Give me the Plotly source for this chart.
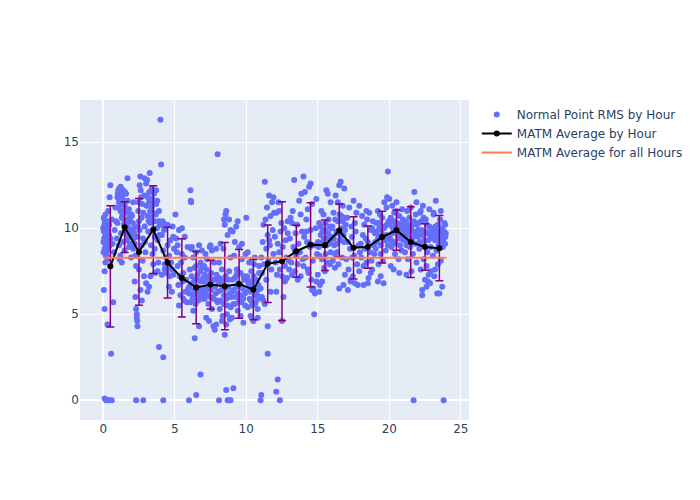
import plotly.graph_objects as go

# Normal point RMS samples (hour, rms), grouped by 4-hour block
rms_pts_00_04 = [
    (0.02,9.2),(0.05,9.8),(0.08,10.2),(0.1,8.8),(0.12,9.5),(0.15,10.0),(0.18,9.0),(0.2,8.5),(0.22,9.7),(0.25,10.3),
    (0.28,9.3),(0.3,8.2),(0.32,9.9),(0.35,10.1),(0.38,8.9),(0.4,9.6),(0.1,7.5),(0.15,8.0),(0.05,6.4),(0.1,5.3),
    (0.3,4.4),(0.55,2.7),(0.7,5.7),(0.5,12.5),(0.45,11.8),(0.6,10.5),(0.65,9.1),(0.75,8.6),(0.8,9.9),(0.9,10.4),
    (0.85,11.2),(0.95,9.4),(0.1,0.1),(0.2,0.0),(0.3,0.0),(0.45,0.0),(0.6,0.0),(0.35,11.0),(0.5,9.4),(0.0,10.0),
    (1.0,11.8),(1.05,12.2),(1.1,11.5),(1.15,12.1),(1.2,11.0),(1.25,12.3),(1.3,10.6),(1.35,11.9),(1.4,12.2),(1.45,10.2),
    (1.5,11.3),(1.55,9.8),(1.6,10.9),(1.65,9.3),(1.7,11.6),(1.75,10.0),(1.8,8.9),(1.85,9.5),(1.9,10.4),(1.95,8.3),
    (1.1,9.0),(1.2,8.4),(1.3,8.0),(1.4,9.2),(1.5,8.7),(1.6,12.0),(1.7,12.9),(1.0,10.3),(1.25,9.7),(1.8,11.1),
    (1.15,8.2),(1.35,10.8),
    (2.0,10.7),(2.05,9.6),(2.1,8.8),(2.15,10.0),(2.2,9.1),(2.25,8.4),(2.3,7.8),(2.2,6.9),(2.25,6.0),(2.3,5.3),
    (2.35,5.0),(2.38,4.6),(2.4,4.3),(2.35,4.8),(2.4,9.5),(2.45,11.0),(2.5,10.4),(2.55,12.5),(2.6,13.0),(2.65,11.8),
    (2.7,9.0),(2.75,8.1),(2.8,10.9),(2.85,7.2),(2.9,12.9),(2.95,8.6),(2.5,7.6),(2.6,6.4),(2.7,5.8),(2.3,0.0),
    (2.8,0.0),(2.1,11.5),(2.55,9.9),(2.9,10.1),
    (3.0,12.6),(3.05,11.9),(3.1,10.7),(3.15,9.8),(3.2,11.5),(3.25,13.2),(3.3,10.3),(3.35,9.0),(3.4,11.2),(3.45,8.5),
    (3.5,10.9),(3.55,12.0),(3.6,9.5),(3.65,7.4),(3.7,11.4),(3.75,10.0),(3.8,9.3),(3.85,8.0),(3.9,11.0),(3.95,10.2),
    (3.1,6.3),(3.2,6.6),(3.3,7.2),(3.0,6.8),(3.4,12.3),(3.6,8.8),(3.8,7.5),(4.0,16.3),(4.05,13.7),(3.9,3.1),
    (4.2,2.5),(4.2,0.0),(3.5,7.9),(3.7,12.2),
]
rms_pts_04_08 = [
    (4.05,10.2),(4.1,9.6),(4.15,10.4),(4.2,8.7),(4.25,9.9),(4.3,7.9),(4.35,10.0),(4.4,8.3),(4.45,7.4),(4.5,9.0),
    (4.55,7.7),(4.6,8.4),(4.65,7.2),(4.7,9.3),(4.75,8.0),(4.8,7.6),(4.85,10.1),(4.9,7.3),(4.95,8.8),(4.1,7.3),
    (4.3,7.6),(4.6,6.6),(4.8,6.3),(4.2,10.3),(4.5,10.2),(4.9,9.5),
    (5.05,10.8),(5.1,9.4),(5.15,8.6),(5.2,7.8),(5.25,6.7),(5.3,9.9),(5.35,7.2),(5.4,6.1),(5.45,8.0),(5.5,10.0),
    (5.55,6.9),(5.6,7.4),(5.65,5.8),(5.7,8.3),(5.75,6.3),(5.8,7.0),(5.85,5.7),(5.9,8.9),(5.95,6.5),(5.2,9.0),
    (5.5,8.5),(5.7,9.5),(6.1,12.2),(6.15,11.5),(6.12,11.6),(5.3,5.5),(5.6,5.9),
    (6.0,6.2),(6.05,7.6),(6.1,5.7),(6.15,8.8),(6.2,6.8),(6.25,5.9),(6.3,8.3),(6.35,6.4),(6.4,7.0),(6.45,5.6),
    (6.5,8.6),(6.55,6.6),(6.6,7.3),(6.65,5.8),(6.7,9.0),(6.75,6.0),(6.8,8.0),(6.85,6.2),(6.9,7.7),(6.95,5.9),
    (6.2,8.9),(6.5,7.8),(6.8,6.9),(6.4,3.6),(6.8,1.5),(6.5,0.3),(6.0,0.0),(6.3,5.2),(6.7,4.3),(6.9,8.7),
    (7.0,6.3),(7.05,7.8),(7.1,5.9),(7.15,8.5),(7.2,6.5),(7.25,8.2),(7.3,7.1),(7.35,5.6),(7.4,6.8),(7.45,8.9),
    (7.5,6.0),(7.55,7.4),(7.6,5.3),(7.65,6.6),(7.7,4.3),(7.75,8.0),(7.8,4.1),(7.85,6.2),(7.9,8.8),(7.95,5.8),
    (7.2,4.8),(7.4,4.6),(7.6,8.7),(7.8,7.0),(8.0,14.3),(7.1,7.3),(7.5,9.0),(7.3,6.1),(7.9,4.4),
]
rms_pts_08_12 = [
    (8.0,5.7),(8.05,6.9),(8.1,8.0),(8.15,5.3),(8.2,9.1),(8.25,6.4),(8.3,7.6),(8.35,4.9),(8.4,8.8),(8.45,6.1),
    (8.5,10.2),(8.55,7.2),(8.6,11.0),(8.65,5.0),(8.7,9.6),(8.75,6.6),(8.8,10.5),(8.85,4.7),(8.9,8.3),(8.95,6.0),
    (8.5,3.8),(8.6,4.4),(8.3,4.6),(8.7,5.5),(8.4,7.0),(8.8,7.5),(8.6,0.6),(8.1,0.0),(8.7,0.0),(8.8,0.0),
    (8.9,0.0),(8.55,10.8),(8.45,10.5),(8.9,9.9),
    (9.0,6.3),(9.05,9.8),(9.1,5.6),(9.15,8.4),(9.2,7.1),(9.25,6.0),(9.3,10.1),(9.35,7.6),(9.4,5.2),(9.45,6.8),
    (9.5,8.9),(9.55,6.1),(9.6,7.4),(9.65,5.7),(9.7,8.2),(9.75,6.5),(9.8,4.5),(9.85,7.0),(9.9,6.2),(9.95,8.5),
    (9.2,9.2),(9.4,10.4),(9.6,4.9),(9.8,5.9),(9.1,0.7),(9.0,4.8),(9.3,6.6),(9.7,9.1),
    (10.0,10.6),(10.05,7.2),(10.1,5.4),(10.15,6.8),(10.2,8.0),(10.25,5.9),(10.3,6.3),(10.35,7.5),(10.4,5.5),(10.45,6.9),
    (10.5,4.6),(10.55,7.9),(10.6,6.1),(10.65,5.7),(10.7,7.0),(10.75,6.4),(10.8,5.3),(10.85,6.7),(10.9,7.4),(10.95,6.0),
    (10.3,4.9),(10.6,8.3),(10.8,4.8),(10.9,7.8),(11.0,0.0),(11.05,0.3),(10.1,8.6),(10.5,6.5),
    (11.0,6.5),(11.05,8.3),(11.1,7.4),(11.15,9.2),(11.2,10.2),(11.25,7.9),(11.3,12.7),(11.35,10.5),(11.4,8.8),(11.45,11.2),
    (11.5,9.6),(11.55,8.1),(11.6,11.9),(11.65,9.0),(11.7,10.7),(11.75,7.6),(11.8,11.5),(11.85,9.9),(11.9,8.5),(11.95,10.9),
    (11.1,6.0),(11.2,5.8),(11.3,5.6),(11.5,2.7),(11.5,4.3),(12.2,1.2),(12.1,0.5),(12.35,0.0),(11.4,7.0),(11.7,6.3),
    (11.9,11.8),(11.6,9.3),
]
rms_pts_12_16 = [
    (12.0,9.5),(12.05,8.0),(12.1,10.9),(12.15,7.3),(12.2,9.1),(12.25,11.5),(12.3,8.6),(12.35,7.6),(12.4,9.8),(12.45,10.3),
    (12.5,4.6),(12.55,8.9),(12.6,6.0),(12.65,10.0),(12.7,7.8),(12.75,9.3),(12.8,8.3),(12.85,7.1),(12.9,9.7),(12.95,8.1),
    (12.1,6.3),(12.3,11.0),(12.5,7.2),(12.7,6.9),(12.9,10.4),
    (13.0,7.6),(13.05,9.4),(13.1,10.6),(13.15,8.0),(13.2,7.3),(13.25,11.0),(13.3,8.9),(13.35,12.8),(13.4,7.5),(13.45,9.7),
    (13.5,8.4),(13.55,10.2),(13.6,7.9),(13.65,9.1),(13.7,11.6),(13.75,8.6),(13.8,7.2),(13.85,12.0),(13.9,9.8),(13.95,8.2),
    (13.2,10.3),(13.4,8.7),(13.6,7.0),(13.8,10.8),(14.0,13.0),
    (14.0,7.8),(14.05,9.5),(14.1,12.1),(14.15,8.3),(14.2,10.5),(14.25,9.2),(14.3,11.1),(14.35,7.4),(14.4,12.4),(14.45,8.9),
    (14.5,9.9),(14.55,7.0),(14.6,11.4),(14.65,8.1),(14.7,6.5),(14.75,9.0),(14.8,6.2),(14.85,10.0),(14.9,6.9),(14.95,8.5),
    (14.75,5.0),(14.3,7.6),(14.5,12.6),(14.9,11.7),(14.6,6.4),(14.2,9.8),
    (15.0,7.3),(15.05,8.9),(15.1,10.3),(15.15,6.7),(15.2,9.6),(15.25,11.0),(15.3,8.2),(15.35,9.2),(15.4,10.8),(15.45,7.7),
    (15.5,9.9),(15.55,8.5),(15.6,12.2),(15.65,9.4),(15.7,8.0),(15.75,10.5),(15.8,9.1),(15.85,7.9),(15.9,11.5),(15.95,10.0),
    (15.1,6.3),(15.3,6.9),(15.5,7.5),(15.7,12.0),(15.9,8.6),(15.2,10.1),
]
rms_pts_16_20 = [
    (16.0,9.5),(16.05,8.1),(16.1,10.9),(16.15,9.0),(16.2,7.7),(16.25,11.9),(16.3,9.8),(16.35,8.6),(16.4,10.4),(16.45,7.9),
    (16.5,12.5),(16.55,9.3),(16.6,12.7),(16.65,10.7),(16.7,8.3),(16.75,11.3),(16.8,9.6),(16.85,12.3),(16.9,7.3),(16.95,10.2),
    (16.5,6.5),(16.2,8.5),(16.8,6.7),(16.4,11.5),(16.9,9.9),(16.7,10.0),
    (17.0,8.2),(17.05,10.6),(17.1,9.2),(17.15,7.6),(17.2,11.2),(17.25,8.8),(17.3,6.9),(17.35,10.1),(17.4,9.5),(17.45,7.2),
    (17.5,11.6),(17.55,8.4),(17.6,6.8),(17.65,9.8),(17.7,10.9),(17.75,7.9),(17.8,6.7),(17.85,9.0),(17.9,11.3),(17.95,8.6),
    (17.1,6.4),(17.3,7.0),(17.6,10.3),(17.9,7.5),(17.4,8.3),
    (18.0,9.1),(18.05,8.3),(18.1,10.7),(18.15,9.6),(18.2,7.8),(18.25,10.2),(18.3,8.8),(18.35,9.4),(18.4,8.0),(18.45,10.5),
    (18.5,9.2),(18.55,7.1),(18.6,10.9),(18.65,8.6),(18.7,9.9),(18.75,8.1),(18.8,7.6),(18.85,10.4),(18.9,9.0),(18.95,8.5),
    (18.2,6.7),(18.5,6.8),(18.8,10.0),(18.4,11.0),(18.7,7.4),
    (19.0,9.7),(19.05,8.8),(19.1,10.3),(19.15,9.2),(19.2,11.0),(19.25,7.9),(19.3,9.5),(19.35,10.8),(19.4,8.5),(19.45,9.9),
    (19.5,10.6),(19.55,8.1),(19.6,9.3),(19.65,11.5),(19.7,10.1),(19.75,8.7),(19.8,9.6),(19.85,11.8),(19.9,13.3),(19.95,10.4),
    (19.2,6.9),(19.4,7.2),(19.6,6.8),(19.8,11.2),(19.3,10.0),(19.9,9.0),
]
rms_pts_20_24 = [
    (20.0,11.7),(20.05,9.4),(20.1,10.6),(20.15,8.9),(20.2,11.3),(20.25,10.0),(20.3,9.1),(20.35,10.9),(20.4,8.5),(20.45,9.8),
    (20.5,11.0),(20.55,10.3),(20.6,9.5),(20.65,8.2),(20.7,10.7),(20.75,9.0),(20.8,10.2),(20.85,8.7),(20.9,9.6),(20.95,10.5),
    (20.1,7.8),(20.3,7.6),(20.5,11.5),(20.7,7.4),(20.9,11.1),(20.4,10.1),
    (21.0,9.3),(21.05,10.4),(21.1,8.6),(21.15,10.0),(21.2,9.0),(21.25,11.0),(21.3,8.2),(21.35,9.7),(21.4,10.6),(21.45,8.9),
    (21.5,9.4),(21.55,7.5),(21.6,10.2),(21.65,8.5),(21.7,9.8),(21.75,12.1),(21.8,9.1),(21.85,10.8),(21.9,8.0),(21.95,9.6),
    (21.2,7.3),(21.5,11.2),(21.7,0.0),(21.9,11.5),(21.3,10.1),
    (22.0,9.5),(22.05,10.3),(22.1,8.8),(22.15,10.9),(22.2,7.6),(22.25,9.9),(22.3,6.1),(22.35,11.3),(22.4,8.2),(22.45,9.3),
    (22.5,7.0),(22.55,10.5),(22.6,6.6),(22.65,8.6),(22.7,9.7),(22.75,7.3),(22.8,10.1),(22.85,6.8),(22.9,8.9),(22.95,9.6),
    (22.3,6.4),(22.6,7.8),(22.8,11.1),(22.4,10.6),(22.7,6.9),(22.2,11.0),(22.9,7.5),
    (23.0,9.9),(23.05,8.4),(23.1,10.8),(23.15,7.2),(23.2,9.3),(23.25,11.6),(23.3,8.7),(23.35,6.2),(23.4,10.2),(23.45,9.0),
    (23.5,6.2),(23.55,10.5),(23.6,8.1),(23.65,9.6),(23.7,10.0),(23.75,8.9),(23.8,9.4),(23.85,10.3),(23.9,9.1),(23.95,9.7),
    (23.2,7.6),(23.4,7.9),(23.7,6.6),(23.8,0.0),(23.1,10.9),(23.6,11.0),(23.9,10.2),
]
# extra samples in the densest cores of the cloud
rms_pts_dense = [
    (0.03,8.6),(0.07,9.4),(0.11,10.4),(0.14,9.1),(0.17,8.4),(0.21,10.0),(0.24,9.5),(0.27,8.7),(0.31,10.4),(0.34,9.2),
    (0.37,8.3),(0.41,10.2),(0.44,9.0),(0.04,10.6),(0.16,10.8),
    (1.02,12.0),(1.08,11.2),(1.12,12.3),(1.18,11.7),(1.22,12.4),(1.28,11.4),(1.32,12.0),(1.38,11.0),(1.42,11.6),(1.48,10.5),
    (1.52,12.1),(1.58,10.3),(1.62,11.1),(1.68,10.1),(1.72,9.6),(1.78,9.9),(1.82,10.6),(1.88,9.1),(1.92,9.8),(1.98,10.8),
    (2.02,9.9),(2.08,10.3),(2.12,9.4),(2.18,9.7),(2.42,10.1),(2.48,11.5),(2.62,12.2),(2.68,10.6),(2.72,11.4),(2.78,9.4),
    (2.88,11.9),(2.92,9.2),
    (3.02,11.3),(3.08,12.8),(3.12,11.8),(3.18,10.4),(3.22,12.1),(3.28,11.0),(3.38,10.6),(3.42,11.7),(3.52,11.5),(3.58,10.4),
    (3.68,10.8),(3.78,11.6),(3.88,10.4),(3.92,9.6),
    (6.02,6.6),(6.18,7.2),(6.28,6.1),(6.38,7.7),(6.48,6.2),(6.58,7.0),(6.68,6.4),(6.78,7.5),(6.88,6.5),(6.98,7.1),
    (7.02,6.9),(7.12,6.2),(7.22,7.6),(7.32,6.5),(7.42,7.2),(7.52,6.4),(7.62,7.0),(7.72,5.9),(7.82,6.6),(7.92,7.3),
    (8.02,6.3),(8.12,7.1),(8.22,5.8),(8.32,6.8),(8.42,5.6),(8.52,6.5),(8.62,5.9),(8.72,7.0),(8.82,6.2),(8.92,5.4),
    (9.02,7.0),(9.12,6.4),(9.22,5.6),(9.32,7.3),(9.42,6.2),(9.52,5.8),(9.62,6.7),(9.72,6.0),(9.82,7.2),(9.92,5.5),
    (10.02,6.3),(10.12,7.0),(10.22,6.5),(10.32,5.8),(10.42,6.6),(10.52,7.2),(10.62,5.6),(10.72,6.2),(10.82,5.9),(10.92,6.5),
    (15.02,9.2),(15.12,8.4),(15.22,9.0),(15.32,9.8),(15.42,9.4),(15.52,10.3),(15.62,9.0),(15.72,9.7),(15.82,10.1),(15.92,9.3),
    (16.02,10.1),(16.12,9.4),(16.22,10.5),(16.32,9.1),(16.42,9.7),(16.52,10.8),(16.62,9.5),(16.72,10.4),(16.82,9.2),(16.92,10.6),
    (19.02,9.2),(19.12,9.8),(19.22,9.4),(19.32,10.3),(19.42,9.0),(19.52,9.6),(19.62,10.0),(19.72,9.3),(19.82,10.2),(19.92,9.5),
    (20.02,10.2),(20.12,9.3),(20.22,9.7),(20.32,10.4),(20.42,9.2),(20.52,10.0),(20.62,9.8),(20.72,9.4),(20.82,9.9),(20.92,10.1),
    (21.02,9.8),(21.12,9.5),(21.22,10.3),(21.32,9.2),(21.42,9.9),(21.52,10.0),(21.62,9.4),(21.72,10.4),(21.82,9.6),(21.92,10.2),
    (22.02,9.9),(22.12,9.2),(22.22,10.4),(22.32,9.6),(22.42,9.0),(22.52,9.8),(22.62,10.2),(22.72,9.3),(22.82,9.6),(22.92,10.0),
    (23.02,9.4),(23.12,9.8),(23.22,10.1),(23.32,9.5),(23.42,9.8),(23.52,9.3),(23.62,9.9),(23.72,9.2),(23.82,9.8),(23.92,9.5),
]

# Hourly MATM averages and standard deviations
avg_hours = [0.5, 1.5, 2.5, 3.5, 4.5, 5.5, 6.5, 7.5, 8.5, 9.5, 10.5, 11.5,
             12.5, 13.5, 14.5, 15.5, 16.5, 17.5, 18.5, 19.5, 20.5, 21.5, 22.5, 23.5]
avg_values = [7.78, 10.06, 8.62, 9.92, 8.0, 7.11, 6.55, 6.72, 6.63, 6.76, 6.43, 7.93,
              8.08, 8.66, 9.03, 9.01, 9.86, 8.86, 8.9, 9.48, 9.88, 9.19, 8.91, 8.84]
avg_std = [3.52, 1.47, 3.1, 2.55, 2.06, 2.27, 2.1, 1.42, 2.54, 2.0, 1.75, 2.25,
           3.45, 1.51, 2.45, 1.47, 1.54, 1.81, 1.23, 1.51, 1.17, 2.05, 1.35, 1.89]

overall_hours = [0, 24]
overall_avg = 8.28

all_pts = (rms_pts_00_04 + rms_pts_04_08 + rms_pts_08_12 + rms_pts_12_16
           + rms_pts_16_20 + rms_pts_20_24 + rms_pts_dense)
rms_x = [p[0] for p in all_pts]
rms_y = [p[1] for p in all_pts]

fig = go.Figure()
fig.add_trace(go.Scatter(
    x=rms_x, y=rms_y, mode="markers", name="Normal Point RMS by Hour",
    marker=dict(color="#636efa", size=6),
))
fig.add_trace(go.Scatter(
    x=avg_hours, y=avg_values, mode="lines+markers", name="MATM Average by Hour",
    line=dict(color="black", width=2), marker=dict(color="black", size=6),
    error_y=dict(type="data", array=avg_std, visible=True, color="purple", thickness=1.5, width=4),
))
fig.add_trace(go.Scatter(
    x=overall_hours, y=[overall_avg] * len(overall_hours), mode="lines",
    name="MATM Average for all Hours", line=dict(color="#ff7f50", width=2),
))
fig.update_layout(
    width=700, height=500, template="plotly",
    font=dict(family="DejaVu Sans, sans-serif"),
)
fig.write_html("out.html")
